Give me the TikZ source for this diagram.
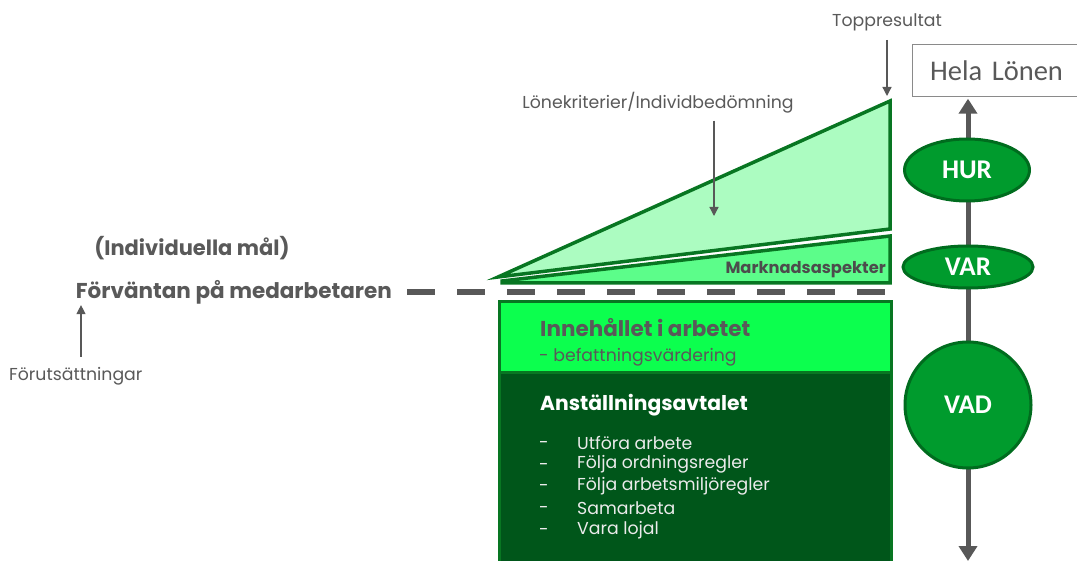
\documentclass[tikz,border=0pt]{standalone}
\usepackage{fontspec}
\setmainfont{Poppins}
\newfontfamily\calfont{Carlito}
\usetikzlibrary{positioning,arrows.meta,shapes.geometric}
\definecolor{txtgray}{RGB}{89,89,89}
\definecolor{axisgray}{RGB}{88,88,88}
\definecolor{edgegreen}{RGB}{8,118,34}
\definecolor{palegreen}{RGB}{172,252,193}
\definecolor{midgreen}{RGB}{92,253,138}
\definecolor{brightgreen}{RGB}{12,255,78}
\definecolor{deepgreen}{RGB}{0,86,26}
\definecolor{ovalfill}{RGB}{0,155,45}
\definecolor{ovaledge}{RGB}{0,108,30}
\tikzset{
  wedge/.style={draw=edgegreen,line width=3.5pt,line join=miter},
  blk/.style={draw=edgegreen,line width=3pt,anchor=north west,inner sep=0pt},
  lbl/.style={font=\fontsize{17.3}{20}\selectfont,text=txtgray,inner sep=1pt},
  bold/.style={font=\fontsize{21}{24}\selectfont\bfseries,text=txtgray,inner sep=1pt},
  oval/.style={ellipse,draw=ovaledge,fill=ovalfill,line width=3pt,text=white,
    font=\calfont\bfseries\fontsize{27}{30}\selectfont,inner sep=0pt},
  thinar/.style={-{Triangle[length=9pt,width=9pt]},line width=1.3pt,axisgray},
  axis/.style={{Triangle[length=15pt,width=18pt]}-{Triangle[length=15pt,width=18pt]},line width=5pt,axisgray},
  sep/.style={line width=6.5pt,axisgray,dash pattern=on 28pt off 22pt},
}
\begin{document}
\begin{tikzpicture}[x=1pt,y=-1pt]
  \useasboundingbox (0,0) rectangle (1077,561);
  % individual part and market part above the line
  \draw[wedge,fill=palegreen] (498,277) -- (890,101) -- (890,229) -- cycle;
  \draw[wedge,fill=midgreen] (502,281) -- (890,236) -- (890,283) -- (502,283) -- cycle;
  \node[font=\fontsize{16.3}{18}\selectfont\bfseries,text=txtgray!85!black,anchor=east,inner sep=0pt] (mark) at (886,270) {Marknadsaspekter};
  % job content and employment contract below the line
  \node[blk,fill=brightgreen,minimum width=392,minimum height=71] (inneh) at (498,300) {};
  \node[blk,fill=deepgreen,minimum width=392,minimum height=200] (avtal) at (498,371) {};
  \node[bold,font=\fontsize{21.5}{24}\selectfont\bfseries,anchor=west] (innehtitle) at (539,328) {Innehållet i arbetet};
  \node[lbl,anchor=west] (befatt) at (538,357) {- befattningsvärdering};
  \node[bold,font=\fontsize{20.3}{24}\selectfont\bfseries,text=white,anchor=west] (avtaltitle) at (539,405) {Anställningsavtalet};
  \foreach \txt [count=\i] in {Utföra arbete,Följa ordningsregler,Följa arbetsmiljöregler,Samarbeta,Vara lojal}{
    \node[lbl,text=white!92!black,anchor=west] (dash\i) at (538,{445+21.7*(\i-1)}) {-};
    \node[lbl,text=white!92!black,anchor=west] (item\i) at (576,{443+21.7*(\i-1)}) {\txt};
  }
  % expectation line
  \node[bold,font=\fontsize{21.5}{24}\selectfont\bfseries,anchor=east] (forv) at (393,292) {Förväntan på medarbetaren};
  \node[bold,anchor=south] (indiv) at (192,261) {(Individuella mål)};
  \coordinate (sepend) at (885,292);
  \draw[sep] (407,292) -- (sepend);
  \node[lbl,anchor=west] (forut) at (8,376) {Förutsättningar};
  \draw[thinar] (forut.north -| 81,0) ++(0,-9) -- (forv.south -| 81,0);
  % top labels
  \node[lbl] (topres) at (887,22) {Toppresultat};
  \coordinate (peak) at (887,96);
  \draw[thinar,shorten <=8pt] (topres.south -| peak) -- (peak);
  \node[lbl] (krit) at (658,103) {Lönekriterier/Individbedömning};
  \coordinate (kritpt) at (714,216);
  \draw[thinar,shorten <=6pt] (krit.south -| kritpt) -- (kritpt);
  % salary axis
  \node[draw=axisgray!70,line width=1.2pt,fill=white,anchor=north west,minimum width=170,minimum height=52,
    font=\calfont\fontsize{28.5}{30}\selectfont,text=txtgray,inner sep=0pt,text width=170,align=center] (hela) at (912,44) {Hela Lönen\hspace*{2pt}};
  \coordinate (axbot) at (968,561);
  \draw[axis,shorten <=1.5pt] (hela.south -| axbot) -- (axbot);
  \node[oval,minimum width=125,minimum height=62] (hur) at (967,170) {HUR};
  \node[oval,minimum width=130,minimum height=42] (var) at (968,267) {VAR};
  \node[oval,circle,minimum size=126] (vad) at (968,405) {VAD};
\end{tikzpicture}
\end{document}
